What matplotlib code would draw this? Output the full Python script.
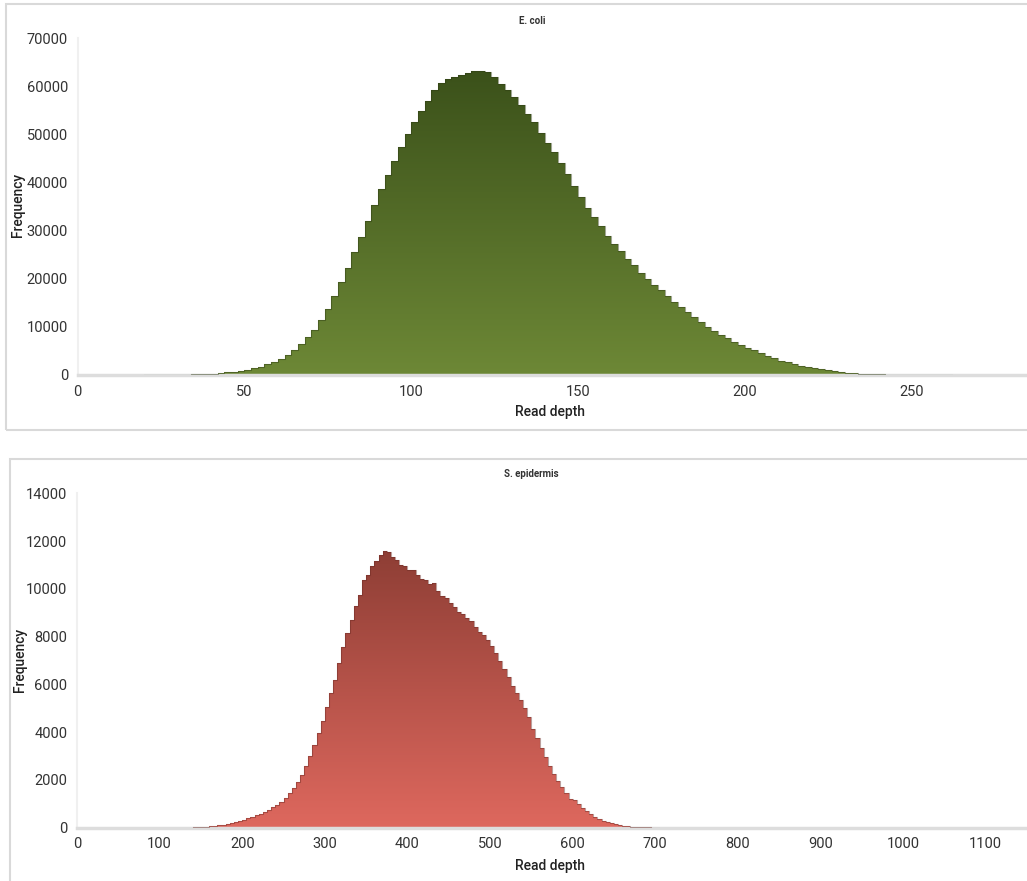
import numpy as np
import matplotlib
matplotlib.use("Agg")
import matplotlib.pyplot as plt
from matplotlib.colors import LinearSegmentedColormap
from matplotlib.path import Path
from matplotlib.patches import PathPatch, Rectangle

plt.rcParams["font.family"] = ["Roboto", "DejaVu Sans"]

# E. coli read depth histogram (bins of 2)
ecoli_depth = list(range(20, 262, 2))
ecoli_freq = [
    10, 15, 20, 30, 40, 60, 80, 110, 160, 220,
    300, 400, 520, 680, 880, 1120, 1400, 1750, 2200, 2750,
    3400, 4200, 5200, 6400, 7800, 9400, 11500, 13800, 16400, 19300,
    22300, 25500, 28600, 32000, 35400, 38600, 41600, 44500, 47300, 50000,
    52500, 54800, 57000, 59200, 60800, 61500, 62000, 62400, 62700, 63100,
    63300, 62900, 62000, 60600, 59200, 57800, 56200, 54300, 52500, 50300,
    48200, 46300, 44000, 41700, 39300, 37000, 34800, 32800, 30900, 29000,
    27200, 25700, 24200, 22800, 21300, 20000, 18800, 17600, 16400, 15200,
    14100, 13000, 12000, 11000, 10000, 9100, 8300, 7600, 6900, 6300,
    5700, 5100, 4500, 4000, 3500, 3000, 2600, 2250, 1950, 1650,
    1400, 1150, 950, 780, 630, 500, 390, 300, 220, 160,
    110, 80, 55, 40, 28, 20, 14, 10, 6, 4,
    3,
]

# S. epidermis read depth histogram (bins of 5)
sepi_depth = list(range(140, 705, 5))
sepi_freq = [
    20, 25, 35, 45, 60, 80, 100, 130, 170, 210,
    250, 300, 340, 390, 450, 520, 590, 670, 750, 850,
    960, 1080, 1250, 1440, 1650, 1900, 2200, 2600, 3000, 3450,
    3950, 4450, 5050, 5650, 6200, 6900, 7550, 8150, 8700, 9300,
    9750, 10350, 10600, 10950, 11150, 11400, 11600, 11550, 11350, 11200,
    11000, 10950, 10800, 10800, 10600, 10400, 10350, 10200, 10250, 9900,
    9700, 9600, 9400, 9250, 9050, 8950, 8800, 8650, 8400, 8200,
    8050, 7850, 7600, 7300, 7000, 6650, 6300, 5950, 5650, 5350,
    5000, 4650, 4150, 3750, 3350, 2950, 2600, 2250, 1950, 1700,
    1450, 1220, 1150, 1000, 820, 680, 560, 460, 370, 290,
    230, 180, 140, 100, 75, 55, 40, 30, 20, 15,
    10, 8, 5,
]

TEXT = "#333333"
BORDER = "#d9d9d9"


def gradient_hist(ax, x, y, width, c_bottom, c_top, c_edge):
    bars = ax.bar(x, y, width=width, align="edge", color="none", linewidth=0)
    paths = [b.get_path().transformed(b.get_patch_transform()) for b in bars]
    clip = PathPatch(Path.make_compound_path(*paths), transform=ax.transData,
                     facecolor="none", edgecolor="none")
    ax.add_patch(clip)
    cmap = LinearSegmentedColormap.from_list("g", [c_bottom, c_top])
    grad = np.linspace(0, 1, 256).reshape(-1, 1)
    im = ax.imshow(grad, extent=[x[0], x[-1] + width, 0, max(y)], aspect="auto",
                   cmap=cmap, origin="lower", zorder=2)
    im.set_clip_path(clip)
    xs = list(x) + [x[-1] + width]
    ys = list(y) + [y[-1]]
    ax.step(xs, ys, where="post", color=c_edge, lw=0.8, alpha=0.45, zorder=3)


def style_axes(ax, xmax, ymax, xticks, yticks, title, title_x, title_y,
               label_y, freq_x, freq_y):
    ax.set_xlim(0, xmax)
    ax.set_ylim(0, ymax)
    ax.set_xticks(xticks)
    ax.set_yticks(yticks)
    ax.tick_params(length=0, labelsize=10.5, colors=TEXT, pad=7)
    for s in ["top", "right"]:
        ax.spines[s].set_visible(False)
    ax.spines["bottom"].set_color("#dddddd")
    ax.spines["bottom"].set_linewidth(2.5)
    ax.spines["left"].set_color("#f0f0f0")
    ax.spines["left"].set_linewidth(1.5)
    fig.text(title_x / W, 1 - title_y / H, title, ha="center", va="center",
             fontsize=7, fontweight="bold", color=TEXT)
    fig.text(550 / W, 1 - label_y / H, "Read depth", ha="center", va="center",
             fontsize=10, fontweight="medium", color="#222222")
    fig.text(freq_x / W, 1 - freq_y / H, "Frequency", ha="center", va="center",
             rotation=90, fontsize=10, fontweight="medium", color="#222222")


W, H = 1027, 881
fig = plt.figure(figsize=(W / 100, H / 100), dpi=100)

# panel frames
fig.add_artist(Rectangle((6 / W, 1 - 430 / H), 1.1, (430 - 4) / H, transform=fig.transFigure,
                         fill=False, edgecolor=BORDER, lw=1.5))
fig.add_artist(Rectangle((10 / W, -0.1), 1.1, (881 - 459) / H + 0.1, transform=fig.transFigure,
                         fill=False, edgecolor=BORDER, lw=1.5))

ax1 = fig.add_axes([77.7 / W, (H - 375) / H, (W - 77.7) / W, 336.7 / H])
gradient_hist(ax1, ecoli_depth, ecoli_freq, 2, "#6d8836", "#3b511a", "#2c3a12")
style_axes(ax1, 284.6, 70000, [0, 50, 100, 150, 200, 250],
           range(0, 70001, 10000), "E. coli", 532, 21, 412, 18, 205)

ax2 = fig.add_axes([77 / W, (H - 827.7) / H, (W - 77) / W, 334.4 / H])
gradient_hist(ax2, sepi_depth, sepi_freq, 5, "#de685e", "#8e3e35", "#6a2a24")
style_axes(ax2, 1150, 14000, range(0, 1101, 100),
           range(0, 14001, 2000), "S. epidermis", 531, 474, 866, 20, 660)

fig.savefig("out.png", dpi=100)
